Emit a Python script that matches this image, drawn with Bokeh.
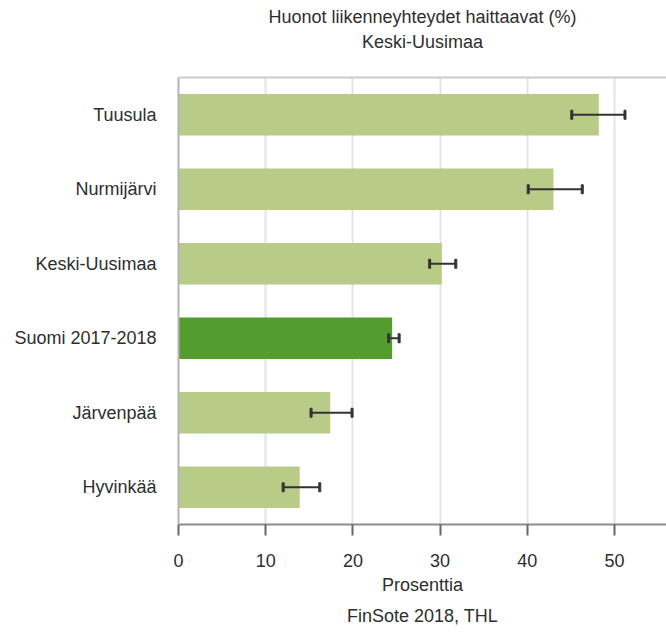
from bokeh.plotting import figure
from bokeh.models import ColumnDataSource, FactorRange, Range1d, LinearAxis, FixedTicker, Title
from bokeh.embed import file_html
from bokeh.resources import INLINE

categories = ["Tuusula", "Nurmijärvi", "Keski-Uusimaa", "Suomi 2017-2018", "Järvenpää", "Hyvinkää"]
values = [48.2, 43.0, 30.2, 24.5, 17.4, 13.9]
lower = [45.1, 40.1, 28.8, 24.1, 15.2, 12.0]
upper = [51.2, 46.3, 31.8, 25.3, 19.9, 16.2]
x_ticks = [0, 10, 20, 30, 40, 50]
reference_category = "Suomi 2017-2018"

FONT = "Liberation Sans"
TXT = "#2e2e2e"
LIGHT = "#b8cb87"
DARK = "#549b30"

colors = [DARK if c == reference_category else LIGHT for c in categories]
src = ColumnDataSource(dict(cat=categories, val=values, lo=lower, hi=upper, color=colors))

p = figure(width=666, height=632, output_backend="svg", toolbar_location=None,
           y_range=FactorRange(factors=list(reversed(categories))),
           x_range=Range1d(0, 55.96),
           min_border_left=178, min_border_right=0, min_border_top=77, min_border_bottom=106)
p.outline_line_color = None
p.background_fill_color = "white"

p.hbar(y="cat", right="val", left=0, height=0.56, color="color", source=src, line_color=None)
p.segment(x0="lo", y0="cat", x1="hi", y1="cat", source=src, line_color="#333333", line_width=2)
p.rect(x="lo", y="cat", width=2, height=9, width_units="screen", height_units="screen",
       source=src, color="#333333")
p.rect(x="hi", y="cat", width=2, height=9, width_units="screen", height_units="screen",
       source=src, color="#333333")

# grids
p.ygrid.grid_line_color = None
p.xgrid.ticker = FixedTicker(ticks=x_ticks)
p.xgrid.grid_line_color = "#e3e3e3"
p.xgrid.grid_line_width = 2

# x axis
xa = p.xaxis[0]
xa.ticker = FixedTicker(ticks=x_ticks)
xa.axis_line_color = "#8c8c8c"
xa.axis_line_width = 2
xa.major_tick_line_color = "#666666"
xa.major_tick_line_width = 2
xa.major_tick_out = 11
xa.major_tick_in = 0
xa.minor_tick_line_color = None
xa.major_label_text_font = FONT
xa.major_label_text_font_size = "18px"
xa.major_label_text_color = TXT
xa.major_label_standoff = 18
xa.axis_label = "Prosenttia"
xa.axis_label_text_font = FONT
xa.axis_label_text_font_size = "18px"
xa.axis_label_text_font_style = "normal"
xa.axis_label_text_color = TXT
xa.axis_label_standoff = 5

# y axis
ya = p.yaxis[0]
ya.axis_line_color = "#b4b4b4"
ya.axis_line_width = 2
ya.major_tick_line_color = None
ya.major_tick_out = 0
ya.major_tick_in = 0
ya.minor_tick_line_color = None
ya.major_label_text_font = FONT
ya.major_label_text_font_size = "18px"
ya.major_label_text_color = TXT
ya.major_label_standoff = 22

# top border line
top = LinearAxis(ticker=FixedTicker(ticks=[]), axis_line_color="#cccccc", axis_line_width=2,
                 major_tick_line_color=None, minor_tick_line_color=None,
                 major_label_text_font_size="0px")
p.add_layout(top, "above")

def title(text, place, standoff):
    p.add_layout(Title(text=text, align="center", text_font=FONT, text_font_size="18px",
                       text_font_style="normal", text_color=TXT, standoff=standoff), place)

title("Keski-Uusimaa", "above", 52)
title("Huonot liikenneyhteydet haittaavat (%)", "above", -46)
title("FinSote 2018, THL", "below", 13)

open("out.html", "w").write(file_html(p, INLINE))
